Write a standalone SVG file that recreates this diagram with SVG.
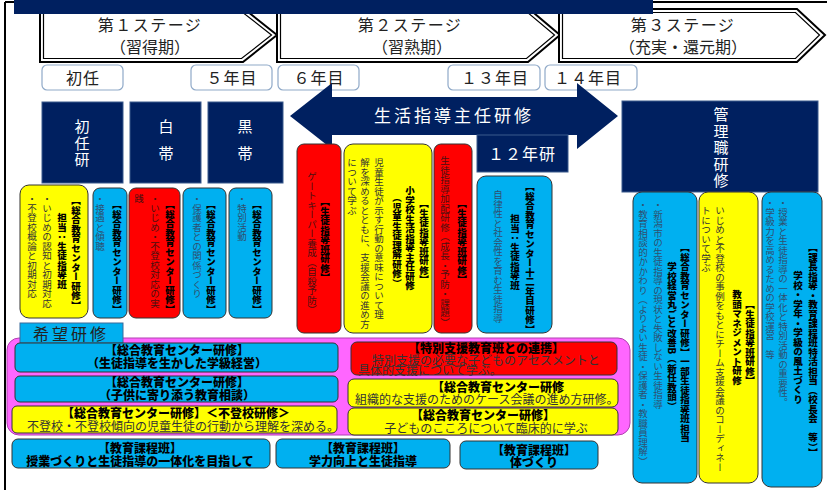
<svg xmlns="http://www.w3.org/2000/svg" width="827" height="490" viewBox="0 0 827 490">
<style>
text{font-family:"Noto Sans CJK JP","Noto Sans CJK SC",sans-serif;}
.v{writing-mode:vertical-rl;font-size:9.5px;}
.b{font-weight:900;fill:#000;}
.n{fill:#333;}
.nc{fill:#2f4f6f;}
.nr{fill:#4a1010;}
.stg{fill:#fff;stroke:#000;stroke-width:2;}
.stgi{fill:none;stroke:#000;stroke-width:1.2;}
.st{font-size:16px;fill:#222;text-anchor:middle;}
.yr{fill:#fff;stroke:#8fa9c8;stroke-width:1.2;}
.yt{font-size:16px;fill:#222;text-anchor:middle;letter-spacing:1px;}
.navy{fill:#002060;stroke:#3a5a8c;stroke-width:1;}
.wv{fill:#fff;font-size:15px;writing-mode:vertical-rl;}
.cy{fill:#00b0f0;stroke:#333;stroke-width:1;}
.ye{fill:#ffff00;stroke:#333;stroke-width:1;}
.rd{fill:#ff0000;stroke:#333;stroke-width:1;}
.hb{font-weight:900;font-size:12px;text-anchor:middle;fill:#000;}
.hn{font-size:12px;fill:#333;}
</style>

<!-- frame -->
<g id="frame">
<line x1="5" y1="2" x2="827" y2="2" stroke="#000" stroke-width="2"/>
<line x1="5" y1="2" x2="5" y2="490" stroke="#000" stroke-width="2"/>
</g>

<!-- stages -->
<g id="stage1">
<polygon class="stg" points="40,8 243,8 277,35 243,62 40,62"/>
<polygon class="stgi" points="43.5,11.5 241.5,11.5 271.5,35 241.5,58.5 43.5,58.5"/>
<text class="st" x="150" y="31" letter-spacing="1.5">第１ステージ</text>
<text class="st" x="150" y="53" font-size="15">（習得期）</text>
</g>
<g id="stage2">
<polygon class="stg" points="277,8 528,8 560,35 528,62 277,62"/>
<polygon class="stgi" points="280.5,11.5 526.5,11.5 554.5,35 526.5,58.5 280.5,58.5"/>
<text class="st" x="410" y="31" letter-spacing="1.5">第２ステージ</text>
<text class="st" x="412" y="53">（習熟期）</text>
</g>
<g id="stage3">
<polygon class="stg" points="559,9 797,9 825,35 797,62 559,62"/>
<polygon class="stgi" points="562.5,12.5 795.5,12.5 819.5,35 795.5,58.5 562.5,58.5"/>
<text class="st" x="683" y="31" letter-spacing="1.5">第３ステージ</text>
<text class="st" x="683" y="53">（充実・還元期）</text>
</g>
<rect id="topbar" x="14" y="0" width="639" height="14" fill="#002060"/>

<!-- year labels -->
<g id="y-shonin"><rect class="yr" x="42" y="65" width="81" height="25" rx="5"/><text class="yt" x="83" y="84" letter-spacing="3">初任</text></g>
<g id="y-5"><rect class="yr" x="191" y="65" width="81" height="25" rx="5"/><text class="yt" x="232" y="84">５年目</text></g>
<g id="y-6"><rect class="yr" x="278" y="65" width="81" height="25" rx="5"/><text class="yt" x="319" y="84">６年目</text></g>
<g id="y-13"><rect class="yr" x="448" y="65" width="92" height="25" rx="5"/><text class="yt" x="495" y="84">１３年目</text></g>
<g id="y-14"><rect class="yr" x="545" y="65" width="92" height="25" rx="5"/><text class="yt" x="588" y="84">１４年目</text></g>

<!-- navy boxes -->
<g id="n-shoninken"><rect class="navy" x="42" y="102" width="81" height="81"/>
<text class="wv" x="82" y="119" letter-spacing="1.5">初任研</text></g>
<g id="n-shiro"><rect class="navy" x="130" y="102" width="71" height="81"/>
<text class="wv" x="166" y="119" font-size="16" letter-spacing="12">白帯</text></g>
<g id="n-kuro"><rect class="navy" x="208" y="102" width="75" height="81"/>
<text class="wv" x="245" y="119" font-size="16" letter-spacing="12">黒帯</text></g>

<g id="arrow-seikatsu">
<polygon fill="#002060" points="290,116 332,83 332,97 577,97 577,83 618,116 577,149 577,135 332,135 332,149"/>
<text x="454" y="122" fill="#fff" font-size="17" letter-spacing="3" text-anchor="middle">生活指導主任研修</text>
</g>

<g id="n-12"><rect class="navy" x="477" y="135" width="91" height="37"/>
<text x="522" y="160" fill="#fff" font-size="16" text-anchor="middle" letter-spacing="1">１２年研</text></g>

<g id="n-kanri"><rect class="navy" x="622" y="101" width="196" height="91"/>
<text class="wv" x="721" y="107" letter-spacing="1.5">管理職研修</text></g>

<!-- column boxes -->
<g id="c1"><rect class="ye" x="20" y="185" width="68" height="133" rx="9"/>
<text class="v b" x="76" y="196">【総合教育センター研修】</text>
<text class="v b" x="62" y="213">担当：生徒指導班</text>
<text class="v n" x="47" y="194">・いじめの認知と初期対応</text>
<text class="v n" x="32" y="194">・不登校概論と初期対応</text></g>

<g id="c2"><rect class="cy" x="93" y="188" width="34" height="130" rx="7"/>
<text class="v b" x="117" y="200">【総合教育センター研修】</text>
<text class="v nc" x="100" y="194">・接遇と傾聴</text></g>

<g id="c3"><rect class="rd" x="129" y="188" width="51" height="130" rx="7"/>
<text class="v b" x="170" y="200">【総合教育センター研修】</text>
<text class="v nr" x="155" y="194">・いじめ・不登校対応の実</text>
<text class="v nr" x="139" y="194">践</text></g>

<g id="c4"><rect class="cy" x="183" y="188" width="43" height="130" rx="7"/>
<text class="v b" x="211" y="200">【総合教育センター研修】</text>
<text class="v nc" x="197" y="194">・保護者との関係づくり</text></g>

<g id="c5"><rect class="cy" x="229" y="188" width="43" height="130" rx="7"/>
<text class="v b" x="257" y="200">【総合教育センター研修】</text>
<text class="v nc" x="242" y="194">・特別活動</text></g>

<g id="c6"><rect class="rd" x="297" y="144" width="44" height="189" rx="7"/>
<text class="v b" x="325" y="197">【生徒指導班研修】</text>
<text class="v nr" x="312" y="172">ゲートキーパー養成（自殺予防）</text></g>

<g id="c7"><rect class="ye" x="344" y="144" width="88" height="189" rx="9"/>
<text class="v b" x="424" y="199">【生徒指導班研修】</text>
<text class="v b" x="410" y="186">小学校生活指導主任研修</text>
<text class="v b" x="397" y="193">（児童生徒理解研修）</text>
<text class="v n" x="379" y="158">児童生徒が示す行動の意味について理</text>
<text class="v n" x="365" y="158">解を深めるとともに、支援会議の進め方</text>
<text class="v n" x="352" y="158">について学ぶ</text></g>

<g id="c8"><rect class="rd" x="434" y="144" width="38" height="189" rx="7"/>
<text class="v b" x="462" y="199">【生徒指導班研修】</text>
<text class="v nr" x="445" y="156">生徒指導加配研修（成長・予防・課題）</text></g>

<g id="c9"><rect class="cy" x="477" y="176" width="75" height="157" rx="9"/>
<text class="v b" x="530" y="182">【総合教育センター十二年目研修】</text>
<text class="v b" x="515" y="214">担当：生徒指導班</text>
<text class="v nc" x="498" y="190">自律性と社会性を育む生徒指導</text></g>

<g id="c10"><rect class="cy" x="633" y="192" width="64" height="291" rx="9"/>
<text class="v b" x="685" y="243">【総合教育センター研修】一部生徒指導班担当</text>
<text class="v b" x="672" y="262">学校経営丸ごと改善B（新任教頭）</text>
<text class="v nc" x="658" y="200">・新潟市の生徒指導の現状と失敗しない生徒指導</text>
<text class="v nc" x="643" y="200">・教育相談的かかわり（よりよい生徒・保護者・教職員理解）</text></g>

<g id="c11"><rect class="ye" x="699" y="192" width="59" height="291" rx="9"/>
<text class="v b" x="750" y="300">【生徒指導班研修】</text>
<text class="v b" x="737" y="290">教頭マネジメント研修</text>
<text class="v n" x="720" y="206">いじめと不登校の事例をもとにチーム支援会議のコーディネー</text>
<text class="v n" x="706" y="206">トについて学ぶ</text></g>

<g id="c12"><rect class="cy" x="762" y="192" width="60" height="295" rx="9"/>
<text class="v b" x="813" y="243" font-size="9">【課長指導・教育課程班特活担当（校長会　等）】</text>
<text class="v b" x="798" y="271">学校・学年・学級の風土づくり</text>
<text class="v nc" x="783" y="198">・授業と生徒指導の一体化と特別活動の重要性。</text>
<text class="v nc" x="770" y="198">・学級力を高めるための学校運営　等</text></g>

<!-- kibou area -->
<g id="kibou">
<rect x="7" y="338" width="623" height="97" rx="12" fill="#ff66ff" stroke="#b040b0" stroke-width="1"/>
<rect x="20" y="323" width="103" height="20" fill="#00b0f0" stroke="#3a6a9a" stroke-width="1"/>
<text x="71" y="340" font-size="16" fill="#222" text-anchor="middle" letter-spacing="3">希望研修</text>
</g>

<g id="hA"><rect class="cy" x="15" y="343" width="323" height="29" rx="5"/>
<text class="hb" x="177" y="355">【総合教育センター研修】</text>
<text class="hb" x="177" y="368">（生徒指導を生かした学級経営）</text></g>
<g id="hB"><rect class="cy" x="15" y="376" width="323" height="26" rx="5"/>
<text class="hb" x="177" y="387">【総合教育センター研修】</text>
<text class="hb" x="177" y="400">（子供に寄り添う教育相談）</text></g>
<g id="hC"><rect class="ye" x="12" y="406" width="325" height="27" rx="5"/>
<text class="hb" x="176" y="418">【総合教育センター研修】＜不登校研修＞</text>
<text class="hn" x="27" y="431">不登校・不登校傾向の児童生徒の行動から理解を深める。</text></g>

<g id="hD"><rect class="rd" x="351" y="342" width="266" height="33" rx="6"/>
<text class="hb" x="486" y="352.5" font-size="11.5">【特別支援教育班との連携】</text>
<text class="hn" x="372" y="364.5" fill="#5a0000">特別支援の必要な子どものアセスメントと</text>
<text class="hn" x="358" y="375" fill="#5a0000">具体的支援について学ぶ。</text></g>
<g id="hE"><rect class="ye" x="348" y="379" width="270" height="28" rx="6"/>
<text class="hb" x="498" y="392" font-size="13.5">【総合教育センター研修</text>
<text class="hn" x="355" y="404" font-size="11.6">組織的な支援のためのケース会議の進め方研修。</text></g>
<g id="hF"><rect class="ye" x="348" y="408" width="270" height="27" rx="6"/>
<text class="hb" x="483" y="420">【総合教育センター研修】</text>
<text class="hn" x="486" y="433" text-anchor="middle">子どものこころについて臨床的に学ぶ</text></g>

<g id="hG"><rect class="cy" x="12" y="439" width="258" height="29" rx="6"/>
<text class="hb" x="140" y="453" font-size="10.5">【教育課程班】</text>
<text class="hb" x="140" y="466">授業づくりと生徒指導の一体化を目指して</text></g>
<g id="hH"><rect class="cy" x="276" y="439" width="174" height="29" rx="6"/>
<text class="hb" x="363" y="453" font-size="10.5">【教育課程班】</text>
<text class="hb" x="363" y="466">学力向上と生徒指導</text></g>
<g id="hI"><rect class="cy" x="460" y="441" width="138" height="28" rx="6"/>
<text class="hb" x="534" y="455" font-size="10.5">【教育課程班】</text>
<text class="hb" x="534" y="467">体づくり</text></g>
</svg>
